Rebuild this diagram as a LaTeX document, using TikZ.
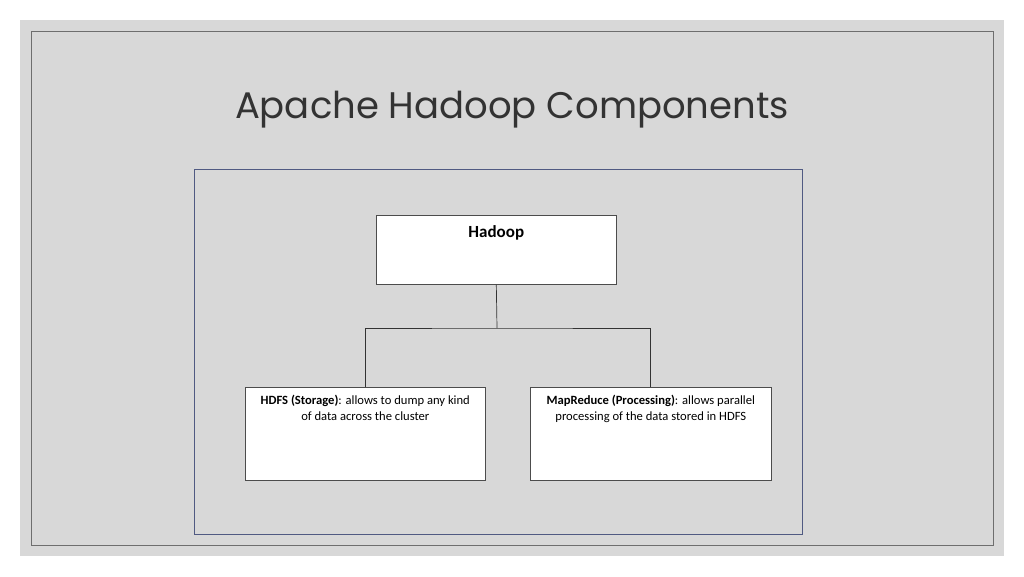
\documentclass[tikz,border=0pt]{standalone}
\usepackage{fontspec}
\setmainfont{Carlito}
\newfontfamily\titlefont{Poppins}
\usetikzlibrary{positioning}
\definecolor{slidegray}{RGB}{216,216,216}
\definecolor{framegray}{RGB}{110,110,110}
\definecolor{panelblue}{RGB}{80,90,130}
\tikzset{
    compbox/.style = {rectangle,draw=black!70,fill=white,line width=0.6pt,anchor=north west,inner sep=0pt},
    boxtext/.style = {font=\fontsize{12.6}{15.5}\selectfont,align=center},
    link/.style = {draw=black!80,line width=0.7pt}
}
\begin{document}
\begin{tikzpicture}[x=1pt,y=-1pt]
        \fill[white] (0,0) rectangle (1024,576);
        \useasboundingbox (0,0) rectangle (1024,576);
        \fill[slidegray] (20,20) rectangle (1004,556);
        \draw[framegray,line width=0.6pt] (31,31) rectangle (993,545);

        \node (title) at (512,110) {\titlefont\fontsize{37}{44}\selectfont\color{black!80}Apache Hadoop Components};

        \draw[panelblue,line width=0.8pt] (194,169) rectangle (802,534);

        \node [compbox,minimum width=240,minimum height=69] (hadoop) at (376,215) {};
        \node [font=\fontsize{17}{20}\selectfont\bfseries,below=7pt of hadoop.north] (hlabel) {Hadoop};

        \node [compbox,minimum width=240,minimum height=93] (hdfs) at (245,387) {};
        \node [boxtext,below=5pt of hdfs.north] (hdfstext) {\textbf{HDFS (Storage)}: allows to dump any kind\\of data across the cluster};

        \node [compbox,minimum width=241,minimum height=93] (mapred) at (530,387) {};
        \node [boxtext,below=5pt of mapred.north] (mrtext) {\textbf{MapReduce (Processing)}: allows parallel\\processing of the data stored in HDFS};

        \coordinate (split) at (497,328);
        \draw[link] (hadoop.south) -- (split);
        \draw[link] (hdfs.north) |- (split) -| (mapred.north);
\end{tikzpicture}
\end{document}
